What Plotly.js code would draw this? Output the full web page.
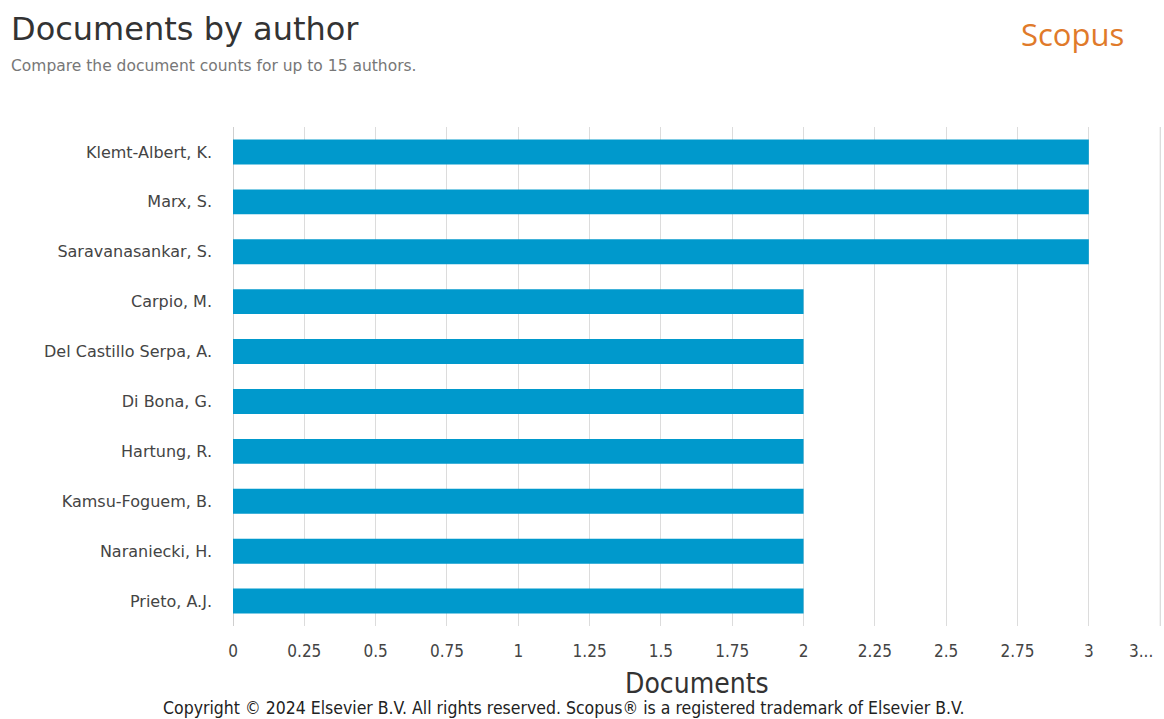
<!DOCTYPE html>
<html>
<head>
<meta charset="utf-8">
<script src="https://cdn.plot.ly/plotly-3.0.1.min.js"></script>
<style>html,body{margin:0;padding:0;background:#fff;}#chart{width:1164px;height:719px;}</style>
</head>
<body>
<div id="chart"></div>
<script>
const authors = ["Klemt-Albert, K.", "Marx, S.", "Saravanasankar, S.", "Carpio, M.", "Del Castillo Serpa, A.", "Di Bona, G.", "Hartung, R.", "Kamsu-Foguem, B.", "Naraniecki, H.", "Prieto, A.J."];
const documents = [3, 3, 3, 2, 2, 2, 2, 2, 2, 2];
const xTickVals = [0, 0.25, 0.5, 0.75, 1, 1.25, 1.5, 1.75, 2, 2.25, 2.5, 2.75, 3, 3.25];
const xTickText = ["0", "0.25", "0.5", "0.75", "1", "1.25", "1.5", "1.75", "2", "2.25", "2.5", "2.75", "3", ""];
const truncatedLastTick = "3...";

const W = 1164, H = 719;
const L = 233, R = 1, T = 127, B = 93;
const PW = W - L - R, PH = H - T - B;
const lastTick = xTickVals[xTickVals.length - 1];

const trace = {
  type: 'bar',
  orientation: 'h',
  x: documents,
  y: authors,
  width: 0.5,
  marker: {color: '#0099cc'},
  hoverinfo: 'x+y'
};

const layout = {
  width: W, height: H,
  paper_bgcolor: '#ffffff',
  plot_bgcolor: '#ffffff',
  margin: {l: L, r: R, t: T, b: B},
  showlegend: false,
  font: {family: 'DejaVu Sans, sans-serif', color: '#333'},
  title: {
    text: 'Documents by author',
    xref: 'container', yref: 'container',
    x: 11 / W, xanchor: 'left',
    y: 1 - 29 / H, yanchor: 'middle',
    font: {family: 'DejaVu Sans, sans-serif', size: 32, color: '#333'}
  },
  xaxis: {
    range: [0, 3.26],
    tickvals: xTickVals,
    ticktext: xTickText,
    showgrid: true,
    gridcolor: '#dcdcdc',
    gridwidth: 1,
    zeroline: true,
    zerolinecolor: '#cfcfcf',
    showline: false,
    ticks: '',
    ticklabelstandoff: 13,
    tickfont: {family: 'DejaVu Sans Condensed, DejaVu Sans, sans-serif', size: 17, color: '#444'},
    fixedrange: true
  },
  yaxis: {
    autorange: 'reversed',
    showgrid: false,
    zeroline: false,
    showline: false,
    ticks: '',
    ticklabelstandoff: 20,
    tickfont: {family: 'DejaVu Sans, sans-serif', size: 16, color: '#444'},
    fixedrange: true
  },
  shapes: [
    {
      type: 'line', xref: 'x', yref: 'paper',
      x0: lastTick, x1: lastTick, y0: 0, y1: 1,
      layer: 'below',
      line: {color: '#dcdcdc', width: 1}
    }
  ],
  annotations: [
    {
      text: truncatedLastTick,
      xref: 'x', yref: 'paper',
      x: lastTick, xanchor: 'right', xshift: -5,
      y: -(651 - 626) / PH, yanchor: 'middle',
      showarrow: false,
      font: {family: 'DejaVu Sans Condensed, DejaVu Sans, sans-serif', size: 17, color: '#444'}
    },
    {
      text: 'Documents',
      xref: 'paper', yref: 'paper',
      x: (697 - L) / PW, xanchor: 'center',
      y: -(683 - 626) / PH, yanchor: 'middle',
      showarrow: false, borderpad: 0,
      font: {family: 'DejaVu Sans Condensed, DejaVu Sans, sans-serif', size: 28, color: '#333'}
    },
    {
      text: 'Compare the document counts for up to 15 authors.',
      xref: 'paper', yref: 'paper',
      x: (9 - L) / PW, xanchor: 'left',
      y: 1 + (T - 66) / PH, yanchor: 'middle',
      showarrow: false,
      font: {family: 'DejaVu Sans, sans-serif', size: 15.5, color: '#777'}
    },
    {
      text: 'Scopus',
      xref: 'paper', yref: 'paper',
      x: (1072 - L) / PW, xanchor: 'center',
      y: 1 + (T - 34) / PH, yanchor: 'middle',
      showarrow: false,
      font: {family: 'Open Sans, sans-serif', size: 31, color: '#e07a2a'}
    },
    {
      text: 'Copyright © 2024 Elsevier B.V. All rights reserved. Scopus® is a registered trademark of Elsevier B.V.',
      xref: 'paper', yref: 'paper',
      x: (563 - L) / PW, xanchor: 'center',
      y: -B / PH, yanchor: 'bottom',
      showarrow: false, borderpad: 0,
      font: {family: 'DejaVu Sans Condensed, DejaVu Sans, sans-serif', size: 17.5, color: '#222'}
    }
  ]
};

Plotly.newPlot('chart', [trace], layout, {displayModeBar: false, staticPlot: true});
</script>
</body>
</html>
